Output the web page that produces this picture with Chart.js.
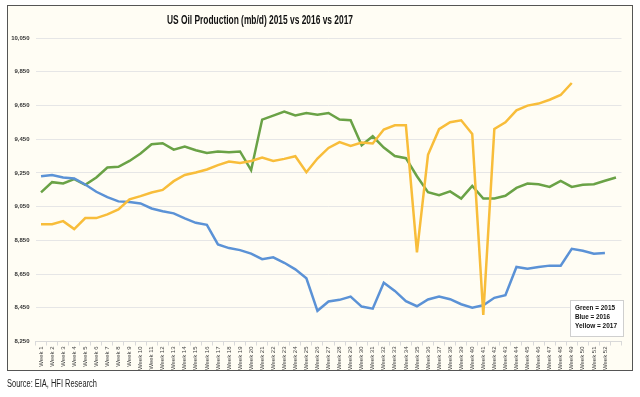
<!DOCTYPE html>
<html>
<head>
<meta charset="utf-8">
<script src="https://cdn.jsdelivr.net/npm/chart.js@4/dist/chart.umd.min.js"></script>
<style>
  html, body { margin: 0; padding: 0; background: #fff; }
  #wrap { width: 640px; height: 397px; position: relative; }
</style>
</head>
<body>
<div id="wrap"><canvas id="oil-chart" width="640" height="397"></canvas></div>
<script>
// Week labels (53 slots, last one blank - 2015 had a 53rd week)
const weeks = [
  'Week 1', 'Week 2', 'Week 3', 'Week 4', 'Week 5', 'Week 6', 'Week 7', 'Week 8', 'Week 9', 'Week 10',
  'Week 11', 'Week 12', 'Week 13', 'Week 14', 'Week 15', 'Week 16', 'Week 17', 'Week 18', 'Week 19', 'Week 20',
  'Week 21', 'Week 22', 'Week 23', 'Week 24', 'Week 25', 'Week 26', 'Week 27', 'Week 28', 'Week 29', 'Week 30',
  'Week 31', 'Week 32', 'Week 33', 'Week 34', 'Week 35', 'Week 36', 'Week 37', 'Week 38', 'Week 39', 'Week 40',
  'Week 41', 'Week 42', 'Week 43', 'Week 44', 'Week 45', 'Week 46', 'Week 47', 'Week 48', 'Week 49', 'Week 50',
  'Week 51', 'Week 52', ''
];

// production, thousand b/d
const prod2015 = [
  9134, 9195, 9187, 9213, 9179, 9223, 9282, 9286, 9321, 9365,
  9420, 9426, 9388, 9406, 9384, 9368, 9377, 9372, 9377, 9266,
  9566, 9590, 9613, 9591, 9605, 9595, 9605, 9566, 9562, 9414,
  9467, 9400, 9350, 9337, 9230, 9136, 9118, 9140, 9098, 9173,
  9098, 9098, 9114, 9161, 9187, 9183, 9167, 9203, 9167, 9179,
  9183, 9203, 9223
];
const prod2016 = [
  9230, 9238, 9223, 9217, 9181, 9138, 9106, 9081, 9077, 9069,
  9039, 9023, 9010, 8980, 8954, 8942, 8826, 8804, 8792, 8771,
  8738, 8749, 8717, 8678, 8625, 8432, 8487, 8497, 8516, 8457,
  8445, 8599, 8550, 8489, 8459, 8499, 8516, 8501, 8471, 8451,
  8465, 8509, 8525, 8692, 8682, 8692, 8700, 8700, 8800, 8788,
  8771, 8775
];
const prod2017 = [
  8946, 8946, 8964, 8917, 8982, 8982, 9004, 9033, 9093, 9112,
  9134, 9149, 9201, 9238, 9252, 9270, 9296, 9317, 9309, 9321,
  9341, 9321, 9333, 9349, 9254, 9335, 9398, 9433, 9410, 9430,
  9424, 9507, 9532, 9532, 8779, 9357, 9509, 9550, 9562, 9481,
  8408, 9510, 9550, 9621, 9649, 9661, 9684, 9712, 9783
];

const yMin = 8250;
const yMax = 10050;
const yStep = 200;

const legendLines = ['Green = 2015', 'Blue = 2016', 'Yellow = 2017'];
const titleText = 'US Oil Production (mb/d) 2015 vs 2016 vs 2017';
const sourceText = 'Source: EIA, HFI Research';

const fam = '"Liberation Sans", Arial, sans-serif';

// draw text squeezed to a given width (the original uses a narrow font)
function fitText(ctx, text, x, y, width) {
  const w = ctx.measureText(text).width;
  const s = Math.min(1, width / w);
  ctx.save();
  ctx.translate(x, y);
  ctx.scale(s, 1);
  ctx.fillText(text, 0, 0);
  ctx.restore();
}

// Frame, title, source note and the text box legend
const decor = {
  id: 'decor',
  beforeDraw(chart) {
    const ctx = chart.ctx;
    ctx.save();
    ctx.fillStyle = '#ffffff';
    ctx.fillRect(0, 0, 640, 397);
    ctx.fillStyle = '#fffdf4';
    ctx.fillRect(7.5, 5.5, 625, 365);
    ctx.strokeStyle = '#555';
    ctx.lineWidth = 1;
    ctx.strokeRect(7.5, 5.5, 625, 365);

    ctx.fillStyle = '#111';
    ctx.font = 'bold 12px ' + fam;
    ctx.textAlign = 'center';
    ctx.textBaseline = 'middle';
    fitText(ctx, titleText, 260, 21, 186);

    ctx.fillStyle = '#222';
    ctx.font = '10px ' + fam;
    ctx.textAlign = 'left';
    fitText(ctx, sourceText, 7, 384, 90);
    ctx.restore();
  },
  afterDraw(chart) {
    const ctx = chart.ctx;
    ctx.save();
    ctx.fillStyle = '#ffffff';
    ctx.fillRect(570.5, 300.5, 53, 36);
    ctx.strokeStyle = '#cfcfcf';
    ctx.strokeRect(570.5, 300.5, 53, 36);
    ctx.fillStyle = '#111';
    ctx.font = 'bold 8px ' + fam;
    ctx.textAlign = 'left';
    ctx.textBaseline = 'middle';
    const widths = [40, 35, 42];
    legendLines.forEach((t, i) => fitText(ctx, t, 575, 308 + i * 9, widths[i]));
    ctx.restore();
  }
};

function line(data, color, order) {
  return {
    data,
    borderColor: color,
    backgroundColor: color,
    borderWidth: 2.5,
    pointRadius: 0,
    tension: 0,
    fill: false,
    order,
  };
}

const ctx = document.getElementById('oil-chart').getContext('2d');
new Chart(ctx, {
  type: 'line',
  data: {
    labels: weeks,
    datasets: [
      Object.assign(line(prod2017, '#f8bd3a', 1), { label: '2017' }),
      Object.assign(line(prod2016, '#5b92d6', 2), { label: '2016' }),
      Object.assign(line(prod2015, '#6aa246', 3), { label: '2015' }),
    ]
  },
  options: {
    responsive: false,
    animation: false,
    layout: { padding: { top: 38, right: 18.5, bottom: 0, left: 0 } },
    plugins: {
      legend: { display: false },
      title: { display: false },
      tooltip: { enabled: false }
    },
    scales: {
      x: {
        offset: true,
        afterFit(scale) { scale.height = 397 - 38 - 303.5; },
        grid: { drawOnChartArea: false, drawTicks: true, tickLength: 4, color: '#d9d9d9', offset: true },
        border: { color: '#d9d9d9' },
        ticks: {
          autoSkip: false,
          minRotation: 90,
          maxRotation: 90,
          padding: 1,
          color: '#444',
          font: { size: 6, family: fam }
        }
      },
      y: {
        min: yMin,
        max: yMax,
        afterFit(scale) { scale.width = 35.5; },
        grid: { color: '#e6e6e6', drawTicks: false },
        border: { display: false },
        ticks: {
          stepSize: yStep,
          padding: 6,
          color: '#333',
          font: { size: 6, weight: 'bold', family: fam },
          callback: v => v.toLocaleString('en-US')
        }
      }
    }
  },
  plugins: [decor]
});
</script>
</body>
</html>
